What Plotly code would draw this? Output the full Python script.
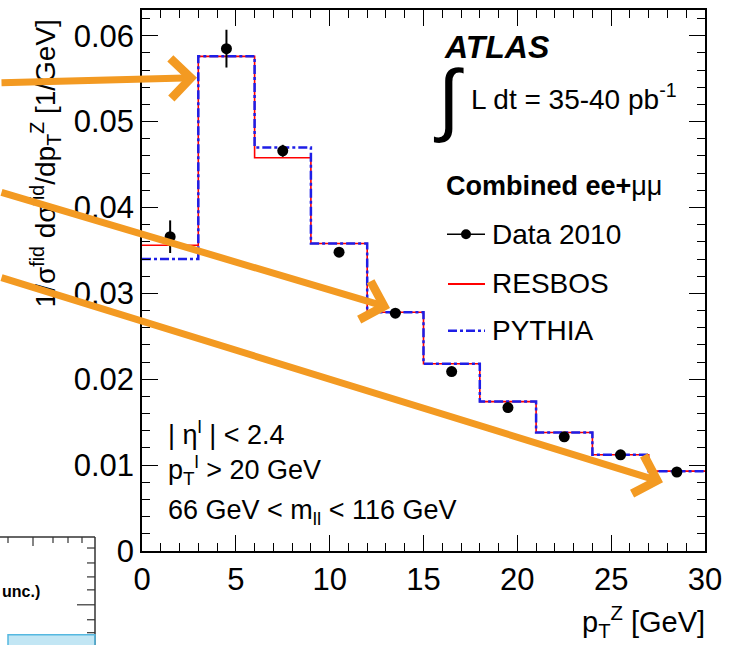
import plotly.graph_objects as go

# ---------------- data ----------------
bin_edges = [0, 3, 6, 9, 12, 15, 18, 21, 24, 27, 30]
bin_centers = [1.5, 4.5, 7.5, 10.5, 13.5, 16.5, 19.5, 22.5, 25.5, 28.5]
data_vals = [0.0366, 0.0585, 0.0466, 0.0348, 0.0277, 0.0209, 0.0167, 0.0133, 0.0112, 0.0092]
data_errs = [0.0019, 0.0022, 0.0007, 0.0005, 0.0004, 0.0003, 0.0003, 0.0003, 0.0002, 0.0002]
resbos_vals = [0.0356, 0.0576, 0.0458, 0.0358, 0.0278, 0.0218, 0.0174, 0.0138, 0.0112, 0.0093]
pythia_vals = [0.0340, 0.0576, 0.0470, 0.0358, 0.0278, 0.0218, 0.0174, 0.0138, 0.0112, 0.0093]
x_tick_vals = [0, 5, 10, 15, 20, 25, 30]
y_tick_vals = [0, 0.01, 0.02, 0.03, 0.04, 0.05, 0.06]
y_tick_text = ["0", "0.01", "0.02", "0.03", "0.04", "0.05", "0.06"]

# ---------------- geometry ----------------
W, H = 732, 645
ML, MR, MT, MB = 142, 27, 8, 94
PW, PH = W - ML - MR, H - MT - MB
FONT = "Liberation Sans, Arial, Helvetica, sans-serif"
ORANGE = "#F39A22"


def px(x):
    return (x - ML) / PW


def py(y):
    return (H - MB - y) / PH


fig = go.Figure()

fig.add_trace(go.Scatter(
    x=bin_edges, y=resbos_vals + [resbos_vals[-1]], mode="lines",
    line=dict(color="#FF0000", width=1.6, shape="hv"), showlegend=False))
fig.add_trace(go.Scatter(
    x=bin_edges, y=pythia_vals + [pythia_vals[-1]], mode="lines",
    line=dict(color="#1E1EE6", width=2.5, shape="hv", dash="dashdot"), showlegend=False))
fig.add_trace(go.Scatter(
    x=bin_centers, y=data_vals, mode="markers",
    marker=dict(color="black", size=11),
    error_y=dict(type="data", array=data_errs, color="black", thickness=2, width=0),
    showlegend=False))

axis_common = dict(
    showline=True, linecolor="black", linewidth=1.5, mirror="ticks",
    ticks="inside", ticklen=16, tickwidth=1.3, tickcolor="black",
    showgrid=False, zeroline=False,
    tickfont=dict(family=FONT, size=31, color="black"),
)
fig.update_xaxes(range=[0, 30], tickvals=x_tick_vals,
                 minor=dict(dtick=1, ticks="inside", ticklen=8, tickcolor="black", showgrid=False),
                 **axis_common)
fig.update_yaxes(range=[0, 0.063], tickvals=y_tick_vals, ticktext=y_tick_text,
                 minor=dict(dtick=0.002, ticks="inside", ticklen=8, tickcolor="black", showgrid=False),
                 **axis_common)

ann = []


def text(x, y, s, size=24, anchor="left", angle=0, yanchor="middle"):
    ann.append(dict(x=px(x), y=py(y), xref="paper", yref="paper", text=s, showarrow=False,
                    xanchor=anchor, yanchor=yanchor, textangle=angle,
                    font=dict(family=FONT, size=size, color="black")))


text(442, 45, "<b><i>ATLAS</i></b>", size=32)
text(448, 97, "∫", size=80, anchor="center")
text(469, 95, "L dt = 35-40 pb<sup>-1</sup>", size=28)
text(444, 185, "<b>Combined ee+</b>μμ", size=27)
text(490, 233, "Data 2010", size=28)
text(490, 283, "RESBOS", size=28)
text(490, 330, "PYTHIA", size=28)
text(166, 433, "| η<sup>l</sup> | < 2.4", size=27)
text(166, 470, "p<sub>T</sub><sup>l</sup> > 20 GeV", size=27)
text(166, 512, "66 GeV < m<sub>ll</sub> < 116 GeV", size=27)
text(707, 622, "p<sub>T</sub><sup>Z</sup> [GeV]", size=29, anchor="right")
text(46, 162, "1/σ<sup>fid</sup> dσ<sup>fid</sup>/dp<sub>T</sub><sup>Z</sup> [1/GeV]", size=28,
     anchor="center", angle=-90)
text(42, 592, "<b>unc.)</b>", size=16, anchor="right")

# orange overlay arrows (tip, tail in pixels)
arrows = [((197, 76), (-20, 81)), ((390, 307), (-20, 191)), ((663, 482), (-20, 277))]
for (tx, ty), (sx, sy) in arrows:
    ann.append(dict(x=px(tx), y=py(ty), xref="paper", yref="paper", ax=sx - tx, ay=sy - ty,
                    showarrow=True, arrowhead=4, arrowsize=1.1, arrowwidth=7,
                    arrowcolor=ORANGE, text=""))
fig.update_layout(annotations=ann)

shapes = []


def line(x0, y0, x1, y1, color="black", width=1.5, dash="solid"):
    shapes.append(dict(type="line", xref="paper", yref="paper", x0=px(x0), y0=py(y0),
                       x1=px(x1), y1=py(y1), line=dict(color=color, width=width, dash=dash)))


# legend symbols
line(447, 233, 485, 233)
shapes.append(dict(type="circle", xref="paper", yref="paper", x0=px(461), x1=px(471),
                   y0=py(228), y1=py(238), fillcolor="black", line=dict(color="black", width=0)))
line(448, 283, 485, 283, color="#FF0000", width=1.8)
line(448, 330, 485, 330, color="#1E1EE6", width=2.5, dash="dashdot")

# partial neighbouring frame (bottom-left)
line(0, 537, 95, 537, color="#333333")
line(95, 537, 95, 650, color="#333333")
for tx, tl in [(8, 6), (33, 9), (53, 6), (68, 6), (82, 6)]:
    line(tx, 537, tx, 537 + tl, color="#333333", width=1.2)
for ty, tl in [(548, 8), (563, 8), (577, 8), (590, 8), (605, 18), (620, 8), (633, 8)]:
    line(95, ty, 95 - tl, ty, color="#333333", width=1.2)
shapes.append(dict(type="rect", xref="paper", yref="paper", x0=px(8), x1=px(95),
                   y0=py(650), y1=py(635), fillcolor="rgba(120,200,230,0.45)",
                   line=dict(color="#55B8E0", width=1.5)))
fig.update_layout(shapes=shapes)

fig.update_layout(
    width=W, height=H, margin=dict(l=ML, r=MR, t=MT, b=MB),
    paper_bgcolor="white", plot_bgcolor="white",
    font=dict(family=FONT, color="black"), showlegend=False,
)
fig.write_html("out.html")
